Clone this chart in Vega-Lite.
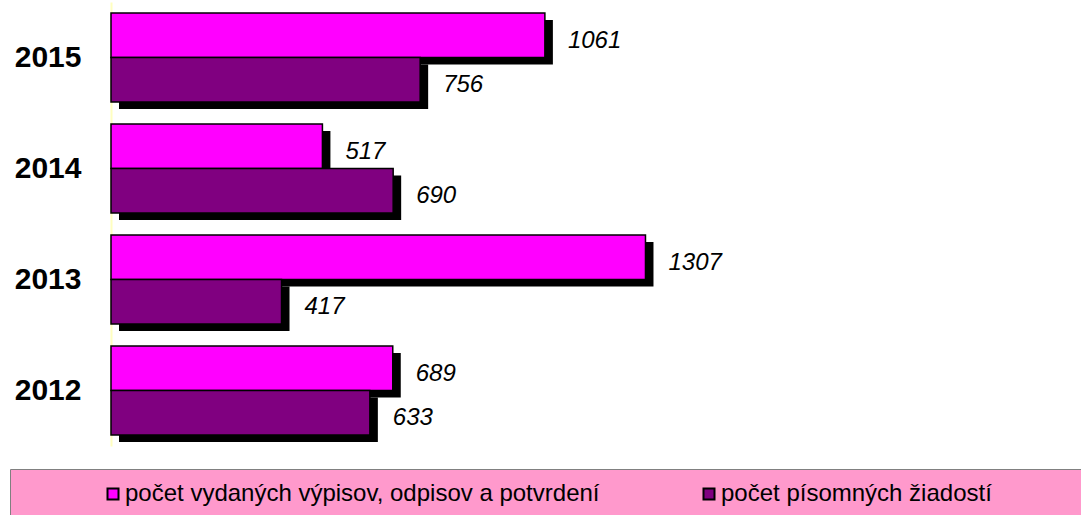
{
  "$schema": "https://vega.github.io/schema/vega-lite/v6.json",
  "autosize": "none",
  "width": 970,
  "height": 444,
  "padding": {"left": 111, "top": 2, "right": 0, "bottom": 69},
  "background": "white",
  "config": {"view": {"stroke": null}, "font": "Liberation Sans"},
  "data": {"values": [
    {"rok": "2015", "ukazovatel": "počet vydaných výpisov, odpisov a potvrdení", "hodnota": 1061},
    {"rok": "2015", "ukazovatel": "počet písomných žiadostí", "hodnota": 756},
    {"rok": "2014", "ukazovatel": "počet vydaných výpisov, odpisov a potvrdení", "hodnota": 517},
    {"rok": "2014", "ukazovatel": "počet písomných žiadostí", "hodnota": 690},
    {"rok": "2013", "ukazovatel": "počet vydaných výpisov, odpisov a potvrdení", "hodnota": 1307},
    {"rok": "2013", "ukazovatel": "počet písomných žiadostí", "hodnota": 417},
    {"rok": "2012", "ukazovatel": "počet vydaných výpisov, odpisov a potvrdení", "hodnota": 689},
    {"rok": "2012", "ukazovatel": "počet písomných žiadostí", "hodnota": 633}
  ]},
  "encoding": {
    "y": {"field": "rok", "type": "nominal",
      "scale": {"domain": ["2015", "2014", "2013", "2012"], "paddingInner": 0.2, "paddingOuter": 0.1},
      "axis": {"title": null, "ticks": false, "domainColor": "#FFFFC0", "domainWidth": 2,
        "labelFont": "Liberation Sans", "labelFontSize": 30, "labelFontWeight": "bold",
        "labelColor": "black", "labelPadding": 30}},
    "x": {"field": "hodnota", "type": "quantitative", "scale": {"domain": [0, 2372]}, "axis": null}
  },
  "resolve": {"scale": {"yOffset": "independent"}},
  "layer": [
    {
      "mark": {"type": "bar", "color": "black", "xOffset": 8, "x2Offset": 3},
      "encoding": {
        "yOffset": {"field": "ukazovatel", "type": "nominal",
          "scale": {"domain": ["počet vydaných výpisov, odpisov a potvrdení", "počet písomných žiadostí"], "paddingInner": 0, "paddingOuter": 0, "range": [7, 95.8]}}
      }
    },
    {
      "mark": {"type": "bar", "stroke": "black", "strokeWidth": 1.5},
      "encoding": {
        "yOffset": {"field": "ukazovatel", "type": "nominal",
          "scale": {"domain": ["počet vydaných výpisov, odpisov a potvrdení", "počet písomných žiadostí"], "paddingInner": 0, "paddingOuter": 0}},
        "color": {"field": "ukazovatel", "type": "nominal",
          "scale": {"domain": ["počet vydaných výpisov, odpisov a potvrdení", "počet písomných žiadostí"], "range": ["#FF00FF", "#800080"]},
          "legend": {
            "orient": "none", "legendX": -101, "legendY": 467,
            "direction": "horizontal", "columns": 2,
            "title": " ", "titleOrient": "left", "titlePadding": 78, "titleFontSize": 8,
            "fillColor": "#FF99CC", "strokeColor": "#808080", "padding": 13,
            "symbolType": "square", "symbolSize": 121, "symbolStrokeColor": "black", "symbolStrokeWidth": 2,
            "labelFont": "Liberation Sans", "labelFontSize": 24, "labelColor": "black", "labelLimit": 1000,
            "labelExpr": "(datum.index == 1 || datum.label == 'počet písomných žiadostí') ? datum.label + '\u00a0\u00a0\u00a0\u00a0\u00a0\u00a0\u00a0\u00a0\u00a0\u00a0\u2800' : datum.label",
            "labelOffset": 0, "columnPadding": 97
          }}
      }
    },
    {
      "mark": {"type": "text", "align": "left", "baseline": "middle", "dx": 23,
        "font": "Liberation Sans", "fontSize": 24, "fontStyle": "italic", "color": "black"},
      "encoding": {
        "yOffset": {"field": "ukazovatel", "type": "nominal",
          "scale": {"domain": ["počet vydaných výpisov, odpisov a potvrdení", "počet písomných žiadostí"], "padding": 0, "range": [28, 72]}},
        "text": {"field": "hodnota", "type": "quantitative"}}
    }
  ]
}
